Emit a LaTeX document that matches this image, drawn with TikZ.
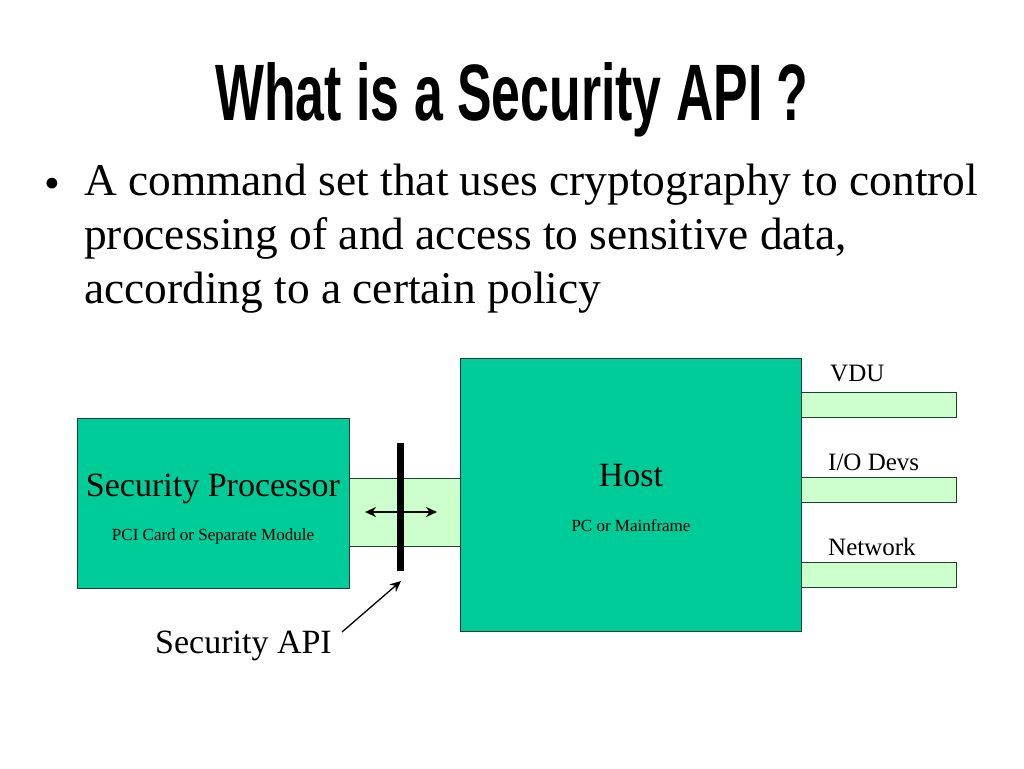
\documentclass[tikz,border=0pt]{standalone}
\usepackage{fontspec}
\setmainfont{Liberation Serif}
\newfontfamily\titlefont{Liberation Sans}
\usetikzlibrary{arrows.meta}
\definecolor{teal}{HTML}{00CC99}
\definecolor{pale}{HTML}{CCFFCC}
\definecolor{edge}{HTML}{1F3F33}
\tikzset{
  bigbox/.style={draw=edge, line width=1pt, fill=teal, inner sep=0pt, anchor=north west},
  band/.style={draw=edge, line width=1pt, fill=pale, inner sep=0pt, anchor=north west},
  lbl/.style={font=\fontsize{25}{29}\selectfont, anchor=base west, inner sep=0pt},
  big/.style={font=\fontsize{34}{38}\selectfont, anchor=base, inner sep=0pt},
  small/.style={font=\fontsize{17}{20}\selectfont, anchor=base, inner sep=0pt},
  apitip/.tip={Stealth[length=11pt,width=10pt]},
}
\begin{document}
\begin{tikzpicture}[x=1pt,y=-1pt]
\useasboundingbox (0,0) rectangle (1024,768);
% title
\node[anchor=base, inner sep=0pt] (title) at (512,120)
  {\resizebox{593pt}{58pt}{\titlefont\bfseries What is a Security API ?}};
% bullet
\node[anchor=base west, inner sep=0pt, font=\fontsize{45}{54}\selectfont] (dot) at (44,198) {•};
\node[anchor=north west, inner sep=0pt, align=left, font=\fontsize{45.4}{54}\selectfont] (bul) at (84,164)
  {A command set that uses cryptography to control\\processing of and access to sensitive data,\\according to a certain policy};
% bands
\node[band, minimum width=130pt, minimum height=68pt] (mid) at (340,478) {};
\node[band, minimum width=160pt, minimum height=25pt] (vdub) at (796,392) {};
\node[band, minimum width=160pt, minimum height=25pt] (iob) at (796,477) {};
\node[band, minimum width=160pt, minimum height=25pt] (netb) at (796,562) {};
% boxes
\node[bigbox, minimum width=272pt, minimum height=170pt] (sp) at (77,418) {};
\node[bigbox, minimum width=341pt, minimum height=273pt] (host) at (460,358) {};
% texts in boxes
\node[big] (spt) at (213,496) {Security Processor};
\node[small] (sps) at (213,540) {PCI Card or Separate Module};
\node[big] (ht) at (631,486) {Host};
\node[small] (hs) at (631,531) {PC or Mainframe};
% right labels
\node[lbl] (vdu) at (830,381) {VDU};
\node[lbl] (io) at (828,470) {I/O Devs};
\node[lbl] (net) at (828,555) {Network};
% API bar
\coordinate (bt) at (400,443);
\coordinate (bb) at (400,571);
\draw[line width=7pt] (bt) -- (bb);
\coordinate (al) at (365,512);
\coordinate (ar) at (437,512);
\draw[line width=2pt, apitip-apitip] (al) -- (ar);
% Security API label
\node[anchor=base west, inner sep=0pt, font=\fontsize{34}{38}\selectfont] (api) at (155,653) {Security API};
\coordinate (pt) at (401,581);
\draw[line width=1.3pt, -apitip] (342,632) -- (pt);
\end{tikzpicture}
\end{document}
